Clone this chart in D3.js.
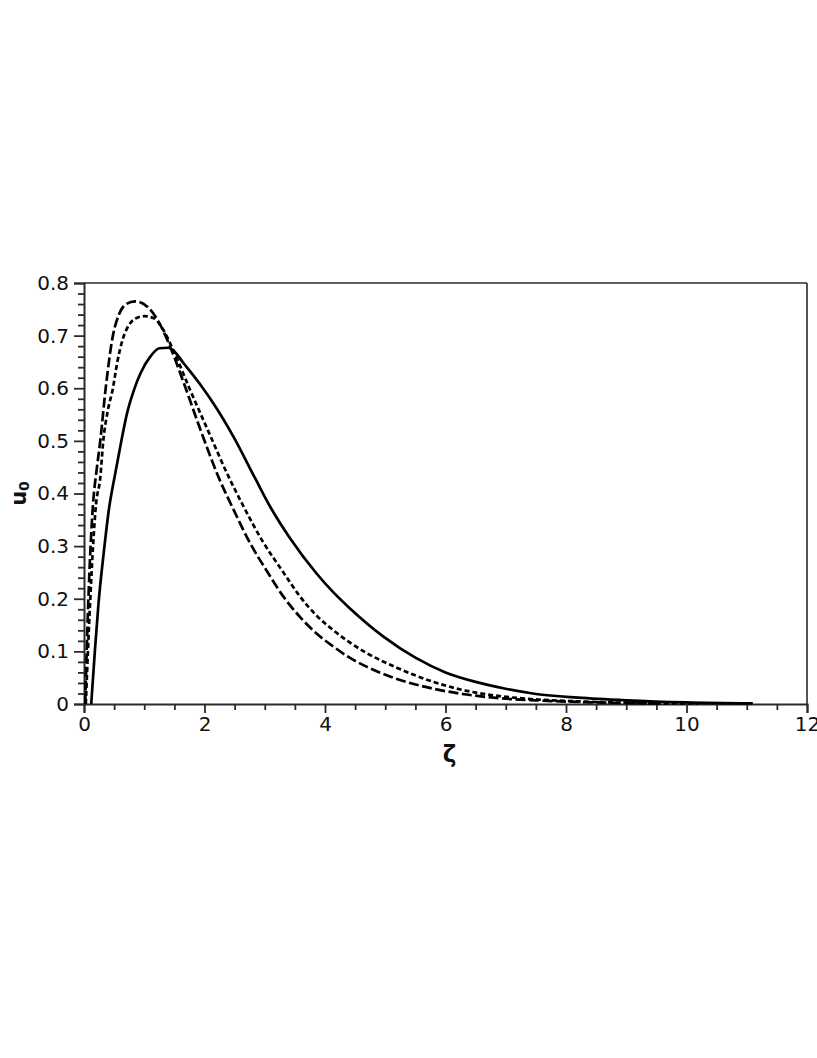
<!DOCTYPE html>
<html>
<head>
<meta charset="utf-8">
<script src="https://cdn.jsdelivr.net/npm/d3@7"></script>
<style>
  html, body { margin: 0; padding: 0; background: #fff; }
  svg { display: block; }
  text { font-family: "DejaVu Sans", Verdana, sans-serif; fill: #111; }
</style>
</head>
<body>
<script>
// ---- data ----
const xTicks = [0, 2, 4, 6, 8, 10, 12];
const yTicks = [0, 0.1, 0.2, 0.3, 0.4, 0.5, 0.6, 0.7, 0.8];

const solidZeta = [0.12,0.18,0.24,0.33,0.42,0.48,0.53,0.62,0.72,0.83,0.94,1.1,1.25,1.4,1.5,1.65,1.93,2.2,2.48,2.84,3.1,3.42,3.86,4.14,4.41,4.97,5.5,6.0,6.5,7.0,7.5,8.2,9.0,10.0,11.1];
const solidU    = [0,0.1,0.19,0.29,0.375,0.415,0.445,0.5,0.555,0.597,0.629,0.66,0.676,0.677,0.67,0.648,0.607,0.562,0.508,0.429,0.373,0.315,0.248,0.212,0.182,0.128,0.088,0.06,0.042,0.029,0.019,0.012,0.007,0.003,0.001];

const longZeta = [0.02,0.07,0.15,0.21,0.27,0.36,0.48,0.58,0.7,0.85,1.05,1.22,1.43,1.65,1.93,2.23,2.5,2.76,3.05,3.31,3.58,3.86,4.14,4.41,4.69,5.13,5.8,6.35,6.9,7.5,8.5,9.7];
const longU    = [0,0.19,0.38,0.445,0.5,0.6,0.70,0.74,0.76,0.765,0.755,0.73,0.679,0.612,0.522,0.432,0.365,0.305,0.25,0.204,0.166,0.134,0.109,0.088,0.071,0.05,0.029,0.018,0.011,0.007,0.003,0.001];

const shortZeta = [0.03,0.1,0.2,0.27,0.32,0.4,0.48,0.55,0.64,0.77,0.88,1.0,1.16,1.3,1.48,1.76,2.03,2.4,2.65,2.95,3.31,3.58,3.86,4.14,4.41,4.69,5.19,5.8,6.35,6.9,7.46,8.2,9.2,10.2];
const shortU    = [0,0.19,0.38,0.43,0.5,0.56,0.60,0.648,0.692,0.724,0.734,0.737,0.733,0.714,0.673,0.597,0.527,0.432,0.375,0.312,0.25,0.205,0.168,0.14,0.117,0.097,0.069,0.042,0.025,0.015,0.009,0.005,0.002,0.001];

const series = [
  { name: "solid", zeta: solidZeta, u: solidU, dash: null },
  { name: "short", zeta: shortZeta, u: shortU, dash: "5,3" },
  { name: "long",  zeta: longZeta,  u: longU,  dash: "10,3.5" }
];

// ---- layout ----
const W = 817, H = 1058;
const mLeft = 84, mRight = 807, mTop = 283, mBottom = 704;

const svg = d3.select("body").append("svg").attr("width", W).attr("height", H);

const x = d3.scaleLinear().domain([0, 12]).range([mLeft, mRight]);
const y = d3.scaleLinear().domain([0, 0.8]).range([mBottom, mTop]);

const axisColor = "#2a2a2a";

// frame (top and right)
svg.append("line").attr("x1", mLeft).attr("x2", mRight).attr("y1", mTop).attr("y2", mTop)
  .attr("stroke", axisColor).attr("stroke-width", 1.6);
svg.append("line").attr("x1", mRight).attr("x2", mRight).attr("y1", mTop).attr("y2", mBottom)
  .attr("stroke", axisColor).attr("stroke-width", 1.6);

// minor ticks
const xMinor = d3.range(0, 12.001, 0.5).filter(v => Math.abs(v % 2) > 1e-6);
const yMinor = d3.range(0, 0.8001, 0.02).filter(v => Math.abs(Math.round(v * 10) - v * 10) > 1e-6);

const gx = svg.append("g").attr("transform", `translate(0,${mBottom})`);
gx.call(d3.axisBottom(x).tickValues(xMinor).tickSize(6).tickFormat(""));
gx.selectAll(".tick line").attr("stroke", axisColor).attr("stroke-width", 1.8);
gx.select(".domain").remove();
const gx2 = svg.append("g").attr("transform", `translate(0,${mBottom})`);
gx2.call(d3.axisBottom(x).tickValues(xTicks).tickSize(9).tickPadding(4).tickFormat(d3.format("d")));
gx2.selectAll(".domain").attr("stroke", axisColor).attr("stroke-width", 2);
gx2.selectAll(".tick line").attr("stroke", axisColor).attr("stroke-width", 1.8);
gx2.selectAll(".tick text").attr("font-size", 20).attr("font-family", "DejaVu Sans").attr("fill", "#111");

const gy = svg.append("g").attr("transform", `translate(${mLeft},0)`);
gy.call(d3.axisLeft(y).tickValues(yMinor).tickSize(6).tickFormat(""));
gy.selectAll(".tick line").attr("stroke", axisColor).attr("stroke-width", 1.8);
gy.select(".domain").remove();
const gy2 = svg.append("g").attr("transform", `translate(${mLeft},0)`);
gy2.call(d3.axisLeft(y).tickValues(yTicks).tickSize(10).tickPadding(5)
  .tickFormat(d => d === 0 ? "0" : d3.format(".1f")(d)));
gy2.selectAll(".domain").attr("stroke", axisColor).attr("stroke-width", 2);
gy2.selectAll(".tick line").attr("stroke", axisColor).attr("stroke-width", 1.8);
gy2.selectAll(".tick text").attr("font-size", 20).attr("font-family", "DejaVu Sans").attr("fill", "#111");

// curves
const line = d3.line()
  .x(d => x(d[0]))
  .y(d => y(d[1]))
  .curve(d3.curveMonotoneX);

series.forEach(s => {
  const pts = s.zeta.map((z, i) => [z, s.u[i]]);
  const p = svg.append("path")
    .datum(pts)
    .attr("d", line)
    .attr("fill", "none")
    .attr("stroke", "#000")
    .attr("stroke-width", 2.7)
    .attr("stroke-linejoin", "round");
  if (s.dash) p.attr("stroke-dasharray", s.dash);
});

// axis titles
svg.append("text")
  .attr("transform", `translate(26,${(mTop + mBottom) / 2}) rotate(-90)`)
  .attr("text-anchor", "middle")
  .attr("font-size", 21)
  .attr("font-weight", "bold")
  .html('u<tspan font-size="14" dy="3">0</tspan>');

svg.append("text")
  .attr("x", (mLeft + mRight) / 2 + 4)
  .attr("y", 762)
  .attr("text-anchor", "middle")
  .attr("font-size", 23)
  .attr("font-weight", "bold")
  .text("ζ");
</script>
</body>
</html>
